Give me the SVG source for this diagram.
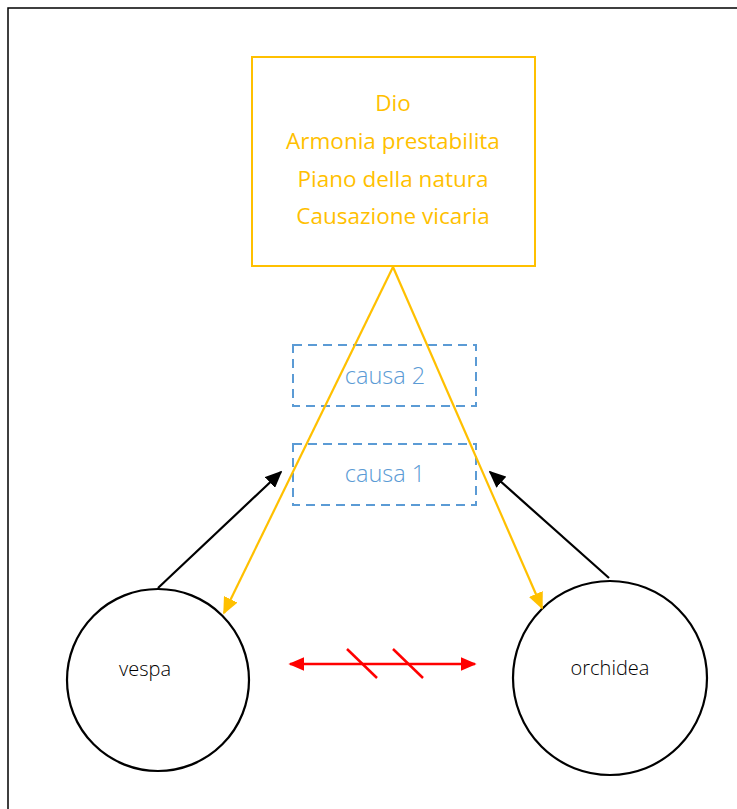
<svg xmlns="http://www.w3.org/2000/svg" width="737" height="809" viewBox="0 0 737 809">
<style>
.frame{fill:none;stroke:#000;stroke-width:1.5}
.dio{fill:#fff;stroke:#FFC000;stroke-width:2}
.dt{font-family:"Open Sans","Liberation Sans",sans-serif;font-size:22.5px;fill:#FFC000;text-anchor:middle}
.cause{fill:none;stroke:#5B9BD5;stroke-width:2;stroke-dasharray:9,6}
.ct{font-family:"Open Sans","Liberation Sans",sans-serif;font-weight:300;font-size:23.5px;fill:#5B9BD5;text-anchor:middle}
.circ{fill:#fff;stroke:#000;stroke-width:2.2}
.nt{font-family:"Open Sans","Liberation Sans",sans-serif;font-weight:300;font-size:20px;fill:#000;text-anchor:middle}
.ya{stroke:#FFC000;stroke-width:2.2;fill:none;marker-end:url(#ay)}
.ba{stroke:#000;stroke-width:2.2;fill:none;marker-end:url(#ab)}
.ra{stroke:#FF0000;stroke-width:2.5;fill:none}
</style>
<defs>
<marker id="ay" viewBox="0 0 10 10" refX="9" refY="5" markerWidth="17" markerHeight="15" markerUnits="userSpaceOnUse" orient="auto" preserveAspectRatio="none"><path d="M0,0L10,5L0,10z" fill="#FFC000"/></marker>
<marker id="ab" viewBox="0 0 10 10" refX="9" refY="5" markerWidth="17" markerHeight="15" markerUnits="userSpaceOnUse" orient="auto" preserveAspectRatio="none"><path d="M0,0L10,5L0,10z" fill="#000"/></marker>
<marker id="ar" viewBox="0 0 10 10" refX="9" refY="5" markerWidth="16" markerHeight="14" markerUnits="userSpaceOnUse" orient="auto-start-reverse" preserveAspectRatio="none"><path d="M0,0L10,5L0,10z" fill="#FF0000"/></marker>
</defs>
<rect class="frame" x="8" y="8" width="740" height="810"/>
<g id="causa2">
<rect class="cause" x="293" y="345" width="183" height="61"/>
<text class="ct" x="385" y="384">causa 2</text>
</g>
<g id="causa1">
<rect class="cause" x="293" y="444" width="183" height="61"/>
<text class="ct" x="385" y="482">causa 1</text>
</g>
<g id="vespa">
<circle class="circ" cx="158" cy="680" r="91"/>
<text class="nt" x="145" y="676">vespa</text>
</g>
<g id="orchidea">
<circle class="circ" cx="610" cy="678" r="97"/>
<text class="nt" x="610" y="675">orchidea</text>
</g>
<g id="connectors">
<line class="ya" x1="393" y1="267" x2="224" y2="613"/>
<line class="ya" x1="393" y1="267" x2="542" y2="608"/>
<line class="ba" x1="158" y1="588" x2="281" y2="472"/>
<line class="ba" x1="609" y1="578" x2="490" y2="472"/>
<line class="ra" x1="290" y1="664" x2="475" y2="664" marker-start="url(#ar)" marker-end="url(#ar)"/>
<line class="ra" x1="347" y1="649" x2="377" y2="678"/>
<line class="ra" x1="393" y1="649" x2="423" y2="678"/>
</g>
<g id="dio">
<rect class="dio" x="252" y="57" width="283" height="209"/>
<text class="dt" x="393" y="111">Dio</text>
<text class="dt" x="393" y="149">Armonia prestabilita</text>
<text class="dt" x="393" y="187">Piano della natura</text>
<text class="dt" x="393" y="224">Causazione vicaria</text>
</g>
</svg>
